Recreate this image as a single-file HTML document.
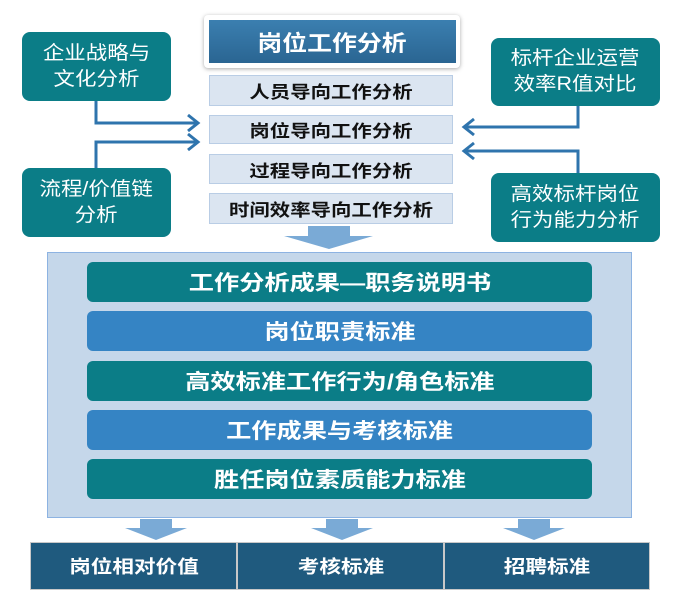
<!DOCTYPE html>
<html><head><meta charset="utf-8"><style>
body{margin:0;width:693px;height:599px;background:#fff;position:relative;overflow:hidden;font-family:"Liberation Sans","Noto Sans CJK SC",sans-serif}
.a{position:absolute;box-sizing:border-box;display:flex;align-items:center;justify-content:center;text-align:center}
.a span{display:inline-block;transform:scaleX(1.2);white-space:nowrap}
.side{background:#0b7d87;color:#fff;border-radius:8px;font-size:19px;line-height:26px}
.side span{transform:scaleX(1.13)}
.lt{background:#dbe5f1;border:1px solid #b9cde5;color:#111;font-weight:bold;font-size:17px}
.bar{border-radius:6px;color:#fff;font-weight:bold;font-size:21px;left:87px;width:505px;height:40px}
.t{background:#0b7d87}.b{background:#3584c4}
.bot{background:#1f5a7e;color:#fff;font-weight:bold;font-size:18px;top:542px;height:48px;border:1px solid #c8c8c8}
</style></head><body>
<div class="a" style="left:204px;top:15px;width:256px;height:53px;background:#fff;box-shadow:0 1px 4px #aaa;border-radius:4px"></div>
<div class="a" style="left:209px;top:20px;width:247px;height:43px;background:linear-gradient(#3b7fb0,#2a6592);color:#fff;font-weight:bold;font-size:22px"><span style="transform:scaleX(1.13)">岗位工作分析</span></div>
<div class="a lt" style="left:209px;top:75px;width:244px;height:31px"><span>人员导向工作分析</span></div>
<div class="a lt" style="left:209px;top:115px;width:244px;height:29px"><span>岗位导向工作分析</span></div>
<div class="a lt" style="left:209px;top:154px;width:244px;height:30px"><span>过程导向工作分析</span></div>
<div class="a lt" style="left:209px;top:193px;width:244px;height:31px"><span>时间效率导向工作分析</span></div>
<div class="a side" style="left:22px;top:32px;width:149px;height:69px"><span>企业战略与<br>文化分析</span></div>
<div class="a side" style="left:22px;top:168px;width:149px;height:69px"><span>流程/价值链<br>分析</span></div>
<div class="a side" style="left:491px;top:38px;width:169px;height:68px"><span>标杆企业运营<br>效率R值对比</span></div>
<div class="a side" style="left:491px;top:173px;width:169px;height:69px"><span>高效标杆岗位<br>行为能力分析</span></div>
<svg style="position:absolute;left:0;top:0" width="693" height="599">
<g fill="none" stroke="#2f74ad" stroke-width="3">
<polyline points="96,101 96,123 198,123"/><polyline points="188,115 198,123 188,131"/>
<polyline points="96,168 96,142 198,142"/><polyline points="188,134 198,142 188,150"/>
<polyline points="578,106 578,127 464,127"/><polyline points="474,119 464,127 474,135"/>
<polyline points="578,173 578,151 464,151"/><polyline points="474,143 464,151 474,159"/>
</g>
<g fill="#7aaad6">
<polygon points="308,226 350,226 350,236 373,236 329,249 284,236 308,236"/>
</g>
</svg>
<div class="a" style="left:47px;top:252px;width:585px;height:266px;background:#c5d7ea;border:1px solid #8db3e2"></div>
<div class="a bar t" style="top:262px"><span>工作分析成果—职务说明书</span></div>
<div class="a bar b" style="top:311px"><span>岗位职责标准</span></div>
<div class="a bar t" style="top:361px"><span>高效标准工作行为/角色标准</span></div>
<div class="a bar b" style="top:410px"><span>工作成果与考核标准</span></div>
<div class="a bar t" style="top:459px"><span>胜任岗位素质能力标准</span></div>
<svg style="position:absolute;left:0;top:0" width="693" height="599"><g fill="#7aaad6">
<polygon points="140,519 172,519 172,528 187,528 156,540 125,528 140,528"/>
<polygon points="326,519 358,519 358,528 373,528 342,540 311,528 326,528"/>
<polygon points="518,519 550,519 550,528 565,528 534,540 503,528 518,528"/>
</g></svg>
<div class="a bot" style="left:30px;width:207px"><span>岗位相对价值</span></div>
<div class="a bot" style="left:237px;width:207px"><span>考核标准</span></div>
<div class="a bot" style="left:444px;width:206px"><span>招聘标准</span></div>
</body></html>
